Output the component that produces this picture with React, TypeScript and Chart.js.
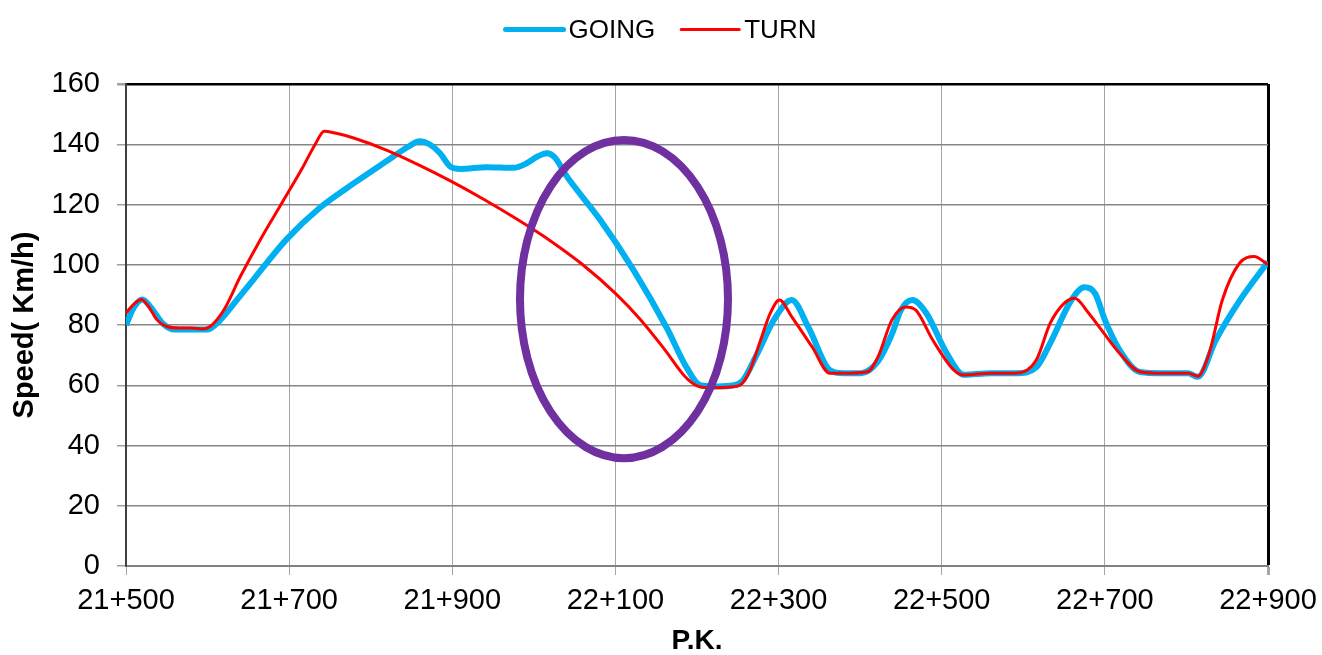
import React, { useEffect, useRef } from 'react';
import { Chart, registerables } from 'chart.js';

Chart.register(...registerables);

// P.K. positions (metres along the line, 21+500 = 21500) and speeds (km/h)
const goingKm = [
  21500, 21510, 21520, 21530, 21545, 21560, 21580, 21600, 21615, 21635,
  21656, 21697, 21738, 21779, 21820, 21845, 21860, 21872, 21885, 21898,
  21910, 21942, 21975, 21990, 22005, 22016, 22026, 22040, 22081, 22122,
  22163, 22187, 22204, 22225, 22245, 22256, 22273, 22295, 22316, 22337,
  22363, 22380, 22401, 22422, 22439, 22450, 22464, 22481, 22506, 22527,
  22560, 22591, 22616, 22633, 22659, 22675, 22688, 22700, 22718, 22743,
  22770, 22802, 22814, 22836, 22865, 22900,
];
const goingSpeed = [
  80, 86, 88.5, 86, 80.5, 78.5, 78.5, 78.5, 81.5, 88,
  95, 108.5, 119, 127, 134.5, 139, 141, 140, 137, 132.5,
  131.8, 132.4, 132.2, 133.5, 136, 137, 135.5, 129.5, 115, 98.3,
  79, 66, 60, 59.6, 60, 61.5, 70, 82, 88.3, 79,
  65, 64, 64, 68, 77, 85, 88.3, 84, 70.7, 63.5,
  64, 64, 66, 74, 88.3, 92.5, 90.5, 81.7, 71.7, 64.4,
  64, 64, 62.8, 75, 88, 101,
];

const turnKm = [
  21500, 21510, 21519, 21528, 21538, 21550, 21565, 21580, 21594, 21603,
  21620, 21640, 21665, 21690, 21715, 21732, 21743, 21755, 21780, 21820,
  21860, 21900, 21940, 21980, 22020, 22060, 22100, 22130, 22160, 22185,
  22200, 22215, 22244, 22255, 22265, 22278, 22290, 22301, 22316, 22341,
  22363, 22380, 22409, 22422, 22439, 22456, 22468, 22489, 22515, 22527,
  22560, 22591, 22616, 22633, 22650, 22663, 22680, 22696, 22718, 22743,
  22770, 22802, 22814, 22828, 22844, 22865, 22883, 22900,
];
const turnSpeed = [
  84, 87, 88.5, 86, 81.7, 79.5, 79, 79, 78.7, 79.5,
  85, 96, 108.5, 120, 131.5, 140, 144.3, 143.8, 142, 138,
  133, 127.5, 121.5, 115, 108, 100, 90.5, 82, 72, 63,
  59.8, 59.2, 59.5, 60.5, 65, 75, 84, 88.3, 82.8, 72.8,
  64, 64, 64.5, 69.5, 81.7, 86, 85, 75, 65, 63.4,
  64, 64, 68.4, 80.6, 87.2, 88.9, 84, 78.3, 70.6, 64.5,
  64, 64, 63, 70.7, 88.3, 100.5, 102.7, 100,
];

const xTickStep = 200;
const yTickStep = 20;
const xRange = [21500, 22900];
const yRange = [0, 160];

// highlighted zone (ellipse) in data units
const highlightKm = [21983, 22238];
const highlightSpeed = [35.8, 141.4];

const FONT = "'Liberation Sans', Arial, Helvetica, sans-serif";

function formatPK(v: number): string {
  const km = Math.floor(v / 1000);
  const m = Math.round(v - km * 1000);
  return `${km}+${String(m).padStart(3, '0')}`;
}

const legendPlugin = {
  id: 'customLegend',
  afterDraw(chart: any) {
    const ctx = chart.ctx as CanvasRenderingContext2D;
    ctx.save();
    ctx.font = `26px ${FONT}`;
    const lineLen = 58;
    const gap = 5;
    const itemGap = 26;
    const items = chart.data.datasets.map((ds: any) => ({
      label: ds.label,
      color: ds.borderColor,
      width: ds.legendLineWidth || ds.borderWidth,
      tw: ctx.measureText(ds.label).width,
    }));
    const total =
      items.reduce((s: number, it: any) => s + lineLen + gap + it.tw, 0) +
      itemGap * (items.length - 1);
    let x = (chart.width - total) / 2;
    const y = 29.5;
    items.forEach((it: any) => {
      ctx.strokeStyle = it.color;
      ctx.lineWidth = it.width;
      ctx.lineCap = 'round';
      ctx.beginPath();
      ctx.moveTo(x, y);
      ctx.lineTo(x + lineLen, y);
      ctx.stroke();
      ctx.fillStyle = '#000';
      ctx.textBaseline = 'middle';
      ctx.textAlign = 'left';
      ctx.fillText(it.label, x + lineLen + gap, y + 1);
      x += lineLen + gap + it.tw + itemGap;
    });
    ctx.restore();
  },
};

const ellipsePlugin = {
  id: 'highlightEllipse',
  afterDatasetsDraw(chart: any) {
    const { x, y } = chart.scales;
    const x1 = x.getPixelForValue(highlightKm[0]);
    const x2 = x.getPixelForValue(highlightKm[1]);
    const y1 = y.getPixelForValue(highlightSpeed[0]);
    const y2 = y.getPixelForValue(highlightSpeed[1]);
    const ctx = chart.ctx as CanvasRenderingContext2D;
    ctx.save();
    ctx.strokeStyle = '#7030A0';
    ctx.lineWidth = 8;
    ctx.beginPath();
    ctx.ellipse((x1 + x2) / 2, (y1 + y2) / 2, Math.abs(x2 - x1) / 2, Math.abs(y2 - y1) / 2, 0, 0, Math.PI * 2);
    ctx.stroke();
    ctx.restore();
  },
};

export default function App() {
  const canvasRef = useRef<HTMLCanvasElement | null>(null);

  useEffect(() => {
    document.body.style.margin = '0';
    const canvas = canvasRef.current;
    if (!canvas) return;
    const chart = new Chart(canvas, {
      type: 'line',
      data: {
        datasets: [
          {
            label: 'GOING',
            data: goingKm.map((k, i) => ({ x: k, y: goingSpeed[i] })),
            borderColor: '#00B0F0',
            backgroundColor: '#00B0F0',
            borderWidth: 6,
            legendLineWidth: 5,
            pointRadius: 0,
            cubicInterpolationMode: 'monotone',
            order: 1,
          } as any,
          {
            label: 'TURN',
            data: turnKm.map((k, i) => ({ x: k, y: turnSpeed[i] })),
            borderColor: '#FF0000',
            backgroundColor: '#FF0000',
            borderWidth: 3,
            pointRadius: 0,
            cubicInterpolationMode: 'monotone',
            order: 0,
          } as any,
        ],
      },
      options: {
        responsive: false,
        animation: false,
        layout: { padding: { top: 84, right: 54, bottom: 0, left: 0 } },
        plugins: {
          legend: { display: false },
          tooltip: { enabled: false },
        },
        scales: {
          x: {
            type: 'linear',
            min: xRange[0],
            max: xRange[1],
            afterFit: (s: any) => {
              s.height = 89;
              s.paddingLeft = 0;
              s.paddingRight = 0;
            },
            ticks: {
              stepSize: xTickStep,
              callback: (v: any) => formatPK(Number(v)),
              font: { family: FONT, size: 29 },
              color: '#000',
              padding: 9,
              maxRotation: 0,
              autoSkip: false,
            },
            grid: {
              color: (c: any) => (c.tick && c.tick.value === xRange[1] ? '#000' : '#a6a6a6'),
              lineWidth: (c: any) => (c.tick && c.tick.value === xRange[1] ? 3 : 1),
              tickLength: 9,
              tickColor: '#a6a6a6',
            },
            border: { display: true, color: '#808080', width: 2 },
            title: {
              display: true,
              text: 'P.K.',
              font: { family: FONT, size: 28, weight: 'bold', lineHeight: 1 },
              color: '#000',
              padding: { top: 0, bottom: 0 },
            },
          },
          y: {
            min: yRange[0],
            max: yRange[1],
            afterFit: (s: any) => { s.width = 126; },
            ticks: {
              stepSize: yTickStep,
              font: { family: FONT, size: 29 },
              color: '#000',
              padding: 17,
            },
            grid: {
              color: (c: any) => (c.tick && c.tick.value === yRange[1] ? '#000' : '#868686'),
              lineWidth: (c: any) => (c.tick && c.tick.value === yRange[1] ? 2.5 : 1.5),
              tickLength: 9,
              tickColor: '#a0a0a0',
            },
            border: { display: true, color: '#404040', width: 2 },
            title: {
              display: true,
              text: 'Speed( Km/h)',
              font: { family: FONT, size: 29, weight: 'bold' },
              color: '#000',
              padding: { top: 8, bottom: 0 },
            },
          },
        },
      } as any,
      plugins: [ellipsePlugin, legendPlugin],
    });
    return () => chart.destroy();
  }, []);

  return (
    <div style={{ width: 1322, height: 655, background: '#fff' }}>
      <canvas ref={canvasRef} width={1322} height={655} style={{ display: 'block' }} />
    </div>
  );
}
